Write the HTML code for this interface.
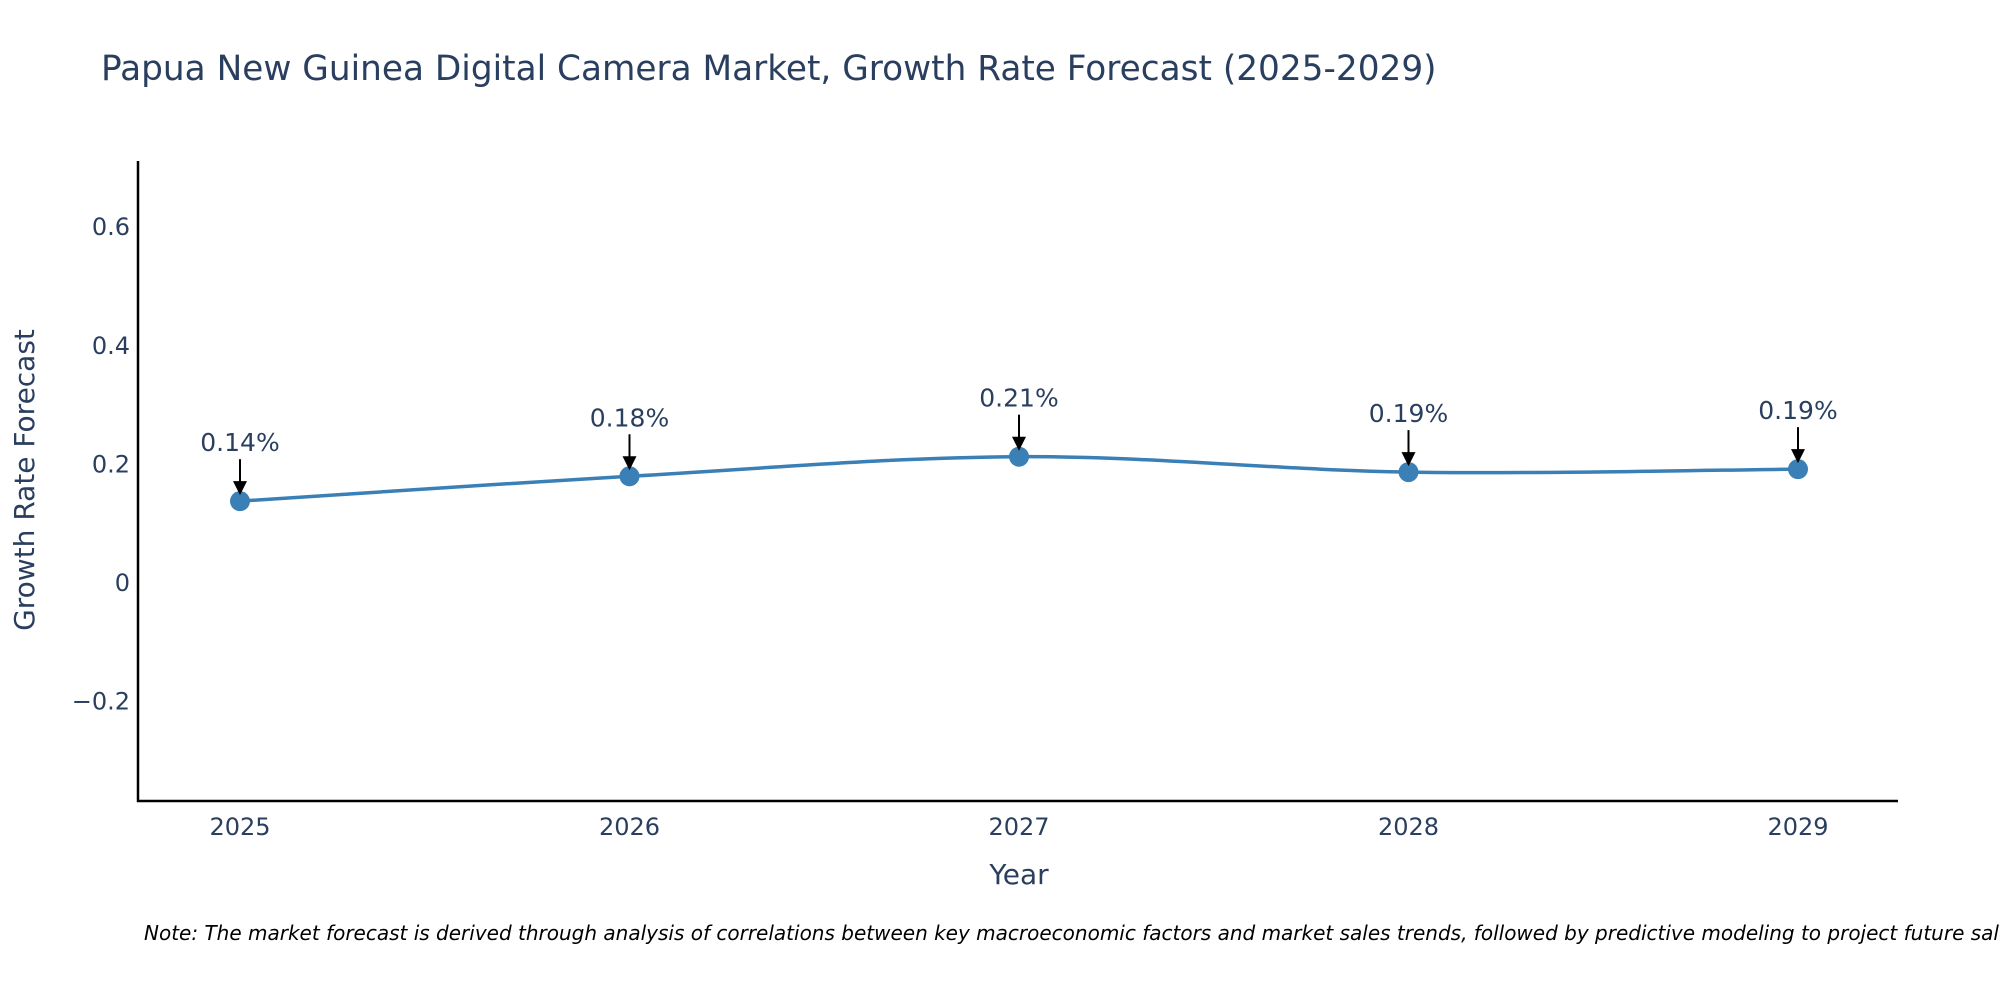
<!DOCTYPE html>
<html><head><meta charset="utf-8">
<style>
body{margin:0;background:#fff;}
svg{display:block;font-family:"DejaVu Sans","Liberation Sans",sans-serif;}
</style></head>
<body>
<svg id="chart" width="2000" height="1000" viewBox="0 0 2000 1000">
<text x="101" y="80" font-size="34.3" fill="#2a3f5f">Papua New Guinea Digital Camera Market, Growth Rate Forecast (2025-2029)</text>
<g id="yticks"></g>
<g id="xticks"></g>
<line x1="138" y1="161" x2="138" y2="802" stroke="#000" stroke-width="2.5"/>
<line x1="137" y1="801" x2="1898" y2="801" stroke="#000" stroke-width="2.5"/>
<text transform="translate(34,480) rotate(-90)" text-anchor="middle" font-size="28" fill="#2a3f5f">Growth Rate Forecast</text>
<text x="1019" y="884" text-anchor="middle" font-size="28" fill="#2a3f5f">Year</text>
<g id="series"></g>
<text x="144" y="940" font-size="20" font-style="italic" fill="#000">Note: The market forecast is derived through analysis of correlations between key macroeconomic factors and market sales trends, followed by predictive modeling to project future sales.</text>
</svg>
<script>
const years = [2025, 2026, 2027, 2028, 2029];
const growth = [0.138, 0.18, 0.213, 0.187, 0.192];
const labels = ["0.14%", "0.18%", "0.21%", "0.19%", "0.19%"];
const yTickVals = [-0.2, 0, 0.2, 0.4, 0.6];
const yTickText = ["\u22120.2", "0", "0.2", "0.4", "0.6"];

const NS = "http://www.w3.org/2000/svg";
const xS = v => 240 + (v - 2025) * 389.5;
const yS = v => 583 - v * 593;
function mk(tag, attrs, parent){const e=document.createElementNS(NS,tag);for(const k in attrs)e.setAttribute(k,attrs[k]);parent.appendChild(e);return e;}

const yt = document.getElementById('yticks');
yTickVals.forEach((v,i)=>{
  const t = mk('text',{x:130,y:yS(v)+8,'text-anchor':'end','font-size':24,fill:'#2a3f5f'},yt);
  t.textContent = yTickText[i];
  
  
});
const xt = document.getElementById('xticks');
years.forEach(y=>{
  const t = mk('text',{x:xS(y),y:835,'text-anchor':'middle','font-size':24,fill:'#2a3f5f'},xt);
  t.textContent = y;
  
  
});

const s = document.getElementById('series');
const pts = years.map((y,i)=>[xS(y), yS(growth[i])]);
let d = `M${pts[0][0]},${pts[0][1]}`;
const tension = 1/6;
for(let i=0;i<pts.length-1;i++){
  const p0=pts[Math.max(0,i-1)],p1=pts[i],p2=pts[i+1],p3=pts[Math.min(pts.length-1,i+2)];
  const c1=[p1[0]+(p2[0]-p0[0])*tension,p1[1]+(p2[1]-p0[1])*tension];
  const c2=[p2[0]-(p3[0]-p1[0])*tension,p2[1]-(p3[1]-p1[1])*tension];
  d+=` C${c1[0]},${c1[1]} ${c2[0]},${c2[1]} ${p2[0]},${p2[1]}`;
}
const line = mk('path',{d:d,fill:'none',stroke:'#3a7fb5','stroke-width':3.5},s);


pts.forEach((p,i)=>{
  const c = mk('circle',{cx:p[0],cy:p[1],r:10,fill:'#3a7fb5'},s);
  
  
  const a = mk('line',{x1:p[0],y1:p[1]-42,x2:p[0],y2:p[1]-18,stroke:'#000','stroke-width':2},s);
  
  
  const h = mk('path',{d:`M${p[0]-7},${p[1]-20} L${p[0]+7},${p[1]-20} L${p[0]},${p[1]-6} Z`,fill:'#000'},s);
  
  
  const t = mk('text',{x:p[0],y:p[1]-50,'text-anchor':'middle','font-size':25,fill:'#2a3f5f'},s);
  t.textContent = labels[i];
  
  
});
</script>
</body></html>
